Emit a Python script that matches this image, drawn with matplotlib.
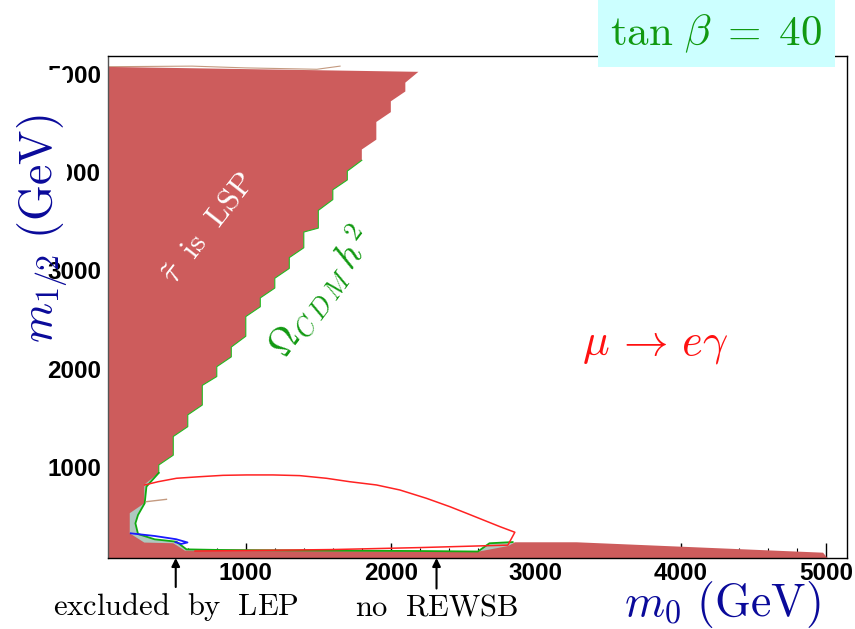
import numpy as np
import matplotlib
matplotlib.use("Agg")
import matplotlib.pyplot as plt
from matplotlib.patches import Polygon, Rectangle
from matplotlib.ticker import MultipleLocator

plt.rcParams['mathtext.fontset'] = 'cm'

# stau-LSP region, right edge (staircase), then down along the bottom
stau_m0 = [50, 2190, 2100, 2100, 2000, 2000, 1900, 1900, 1800, 1800, 1700, 1700,
           1600, 1600, 1500, 1500, 1400, 1400, 1300, 1300, 1200, 1200, 1100, 1100,
           1000, 1000, 900, 900, 800, 800, 700, 700, 600, 600, 500, 500, 400, 400,
           300, 300, 200, 200, 300, 500, 580, 2600, 2810, 2855, 3280, 4980, 5010, 50]
stau_m12 = [5070, 5020, 4910, 4820, 4720, 4610, 4510, 4330, 4230, 4120, 4010, 3920,
            3820, 3720, 3610, 3430, 3390, 3230, 3130, 3020, 2920, 2820, 2720, 2630,
            2530, 2330, 2220, 2120, 2020, 1920, 1830, 1630, 1530, 1410, 1310, 1120, 1020, 940,
            820, 630, 530, 325, 231, 224, 149, 138, 196, 234, 234, 128, 74, 74]

# Omega h^2 band, lower-left part
omega_m0 = [400, 315, 303, 257, 239, 257, 372, 522, 591, 809, 1500, 2200, 2600, 2680, 2840]
omega_m12 = [940, 800, 631, 512, 427, 318, 264, 240, 162, 156, 150, 145, 140, 224, 236]

# mu -> e gamma contour
mueg_m0 = [303, 395, 522, 683, 843, 1005, 1188, 1372, 1556, 1717, 1901, 2062, 2246,
           2407, 2522, 2637, 2752, 2855, 2807, 2200, 1600, 1000, 650]
mueg_m12 = [817, 850, 885, 901, 915, 919, 919, 912, 885, 850, 817, 766, 681,
            596, 529, 461, 393, 336, 205, 180, 160, 150, 145]

# LEP bound
lep_m0 = [207, 372, 520, 598, 555, 515]
lep_m12 = [325, 298, 265, 232, 217, 235]

# small tan lines
tan1_m0 = [315, 453]
tan1_m12 = [647, 671]
tan2_m0 = [50, 630, 1000, 1490, 1650]
tan2_m12 = [5072, 5078, 5060, 5046, 5078]

xticks = [1000, 2000, 3000, 4000, 5000]
yticks = [1000, 2000, 3000, 4000, 5000]
lep_arrow_x = 517
rewsb_arrow_x = 2315

fig = plt.figure(figsize=(8.55, 6.29), dpi=100)
ax = fig.add_axes([108/855, 1-558/629, 739/855, 502/629])
ax.set_xlim(50, 5145)
ax.set_ylim(74, 5181)

# grey band under the red region
grey = list(zip(omega_m0, omega_m12)) + [(2840, 74), (50, 74), (50, 940)]
ax.add_patch(Polygon(grey, closed=True, facecolor='#aec8bf', edgecolor='none', zorder=2))
ax.add_patch(Polygon(list(zip(stau_m0, stau_m12)), closed=True,
                     facecolor='#cd5c5c', edgecolor='none', zorder=3))

# green line along the staircase edge and the lower curve
ax.plot(stau_m0[9:38], stau_m12[9:38], color='#22bb22', lw=0.8, zorder=3.5)
ax.plot(omega_m0, omega_m12, color='#11aa11', lw=1.3, zorder=4)
ax.plot(mueg_m0, mueg_m12, color='#ff2222', lw=1.1, zorder=4.5)
ax.plot(lep_m0, lep_m12, color='#1a1aff', lw=1.3, zorder=4)
ax.plot(tan1_m0, tan1_m12, color='#c49a80', lw=1.0, zorder=4)
ax.plot(tan2_m0, tan2_m12, color='#c49a80', lw=0.8, zorder=2.9)

ax.set_xticks(xticks)
ax.set_yticks(yticks)
ax.xaxis.set_minor_locator(MultipleLocator(200))
ax.tick_params(axis='x', which='major', direction='in', length=11, width=1.0, pad=3)
ax.tick_params(axis='x', which='minor', direction='in', length=7, width=0.8)
ax.tick_params(axis='y', which='both', length=0, pad=5)
ax.tick_params(top=False, right=False)
for lab in ax.get_xticklabels() + ax.get_yticklabels():
    lab.set_fontfamily('Liberation Sans')
    lab.set_fontweight('bold')
    lab.set_fontsize(17.5)
for sp in ax.spines.values():
    sp.set_zorder(5)
    sp.set_linewidth(1.0)
ax.spines['left'].set_color('#555555')

# texts inside the plot
ax.text(740, 3431, r'$\tilde{\tau}\ \ \mathrm{is\ \ LSP}$', color='white', fontsize=23,
        rotation=52, ha='center', va='center', zorder=6)
ax.text(1520, 2770, r'$\Omega_{C\,D\,M}\,h^{2}$', color='#119911', fontsize=27,
        rotation=53, ha='center', va='center', zorder=6)
ax.text(3821, 2241, r'$\mu\,\rightarrow\,e\gamma$', color='#ff1111', fontsize=32,
        ha='center', va='center', zorder=6)

# arrows below the axis
for xa, lab in [(lep_arrow_x, r'$\mathrm{excluded\ \ by\ \ LEP}$'),
                (rewsb_arrow_x, r'$\mathrm{no\ \ REWSB}$')]:
    ax.annotate(lab, xy=(xa, 0), xycoords=('data', 'axes fraction'),
                xytext=(xa, -0.098), textcoords=('data', 'axes fraction'),
                ha='center', va='center', fontsize=22, annotation_clip=False,
                arrowprops=dict(arrowstyle='-|>', color='black', lw=1.5,
                                mutation_scale=12, shrinkA=1, shrinkB=0))

# axis labels
fig.patches.append(Rectangle((25/855, 1-235/629), 42/855, 165/629,
                             transform=fig.transFigure, facecolor='white',
                             edgecolor='none', zorder=1))
fig.text(43/855, 1-229/629, r'$m_{1/2}\ \mathrm{(GeV)}$', rotation=90,
         color='#0a0a9a', fontsize=33, ha='center', va='center')
fig.text(820/855, 1-605/629, r'$m_0\ \mathrm{(GeV)}$', color='#0a0a9a',
         fontsize=33, ha='right', va='center')

# tan beta box
fig.patches.append(Rectangle((598/855, 1-67/629), 237/855, 67/629,
                             transform=fig.transFigure, facecolor='#ccffff',
                             edgecolor='none', zorder=2))
fig.text(716/855, 1-34/629, r'$\tan\,\beta\;=\;40$', color='#119911', fontsize=31,
         ha='center', va='center', zorder=3)

fig.savefig('out.png', dpi=100)
